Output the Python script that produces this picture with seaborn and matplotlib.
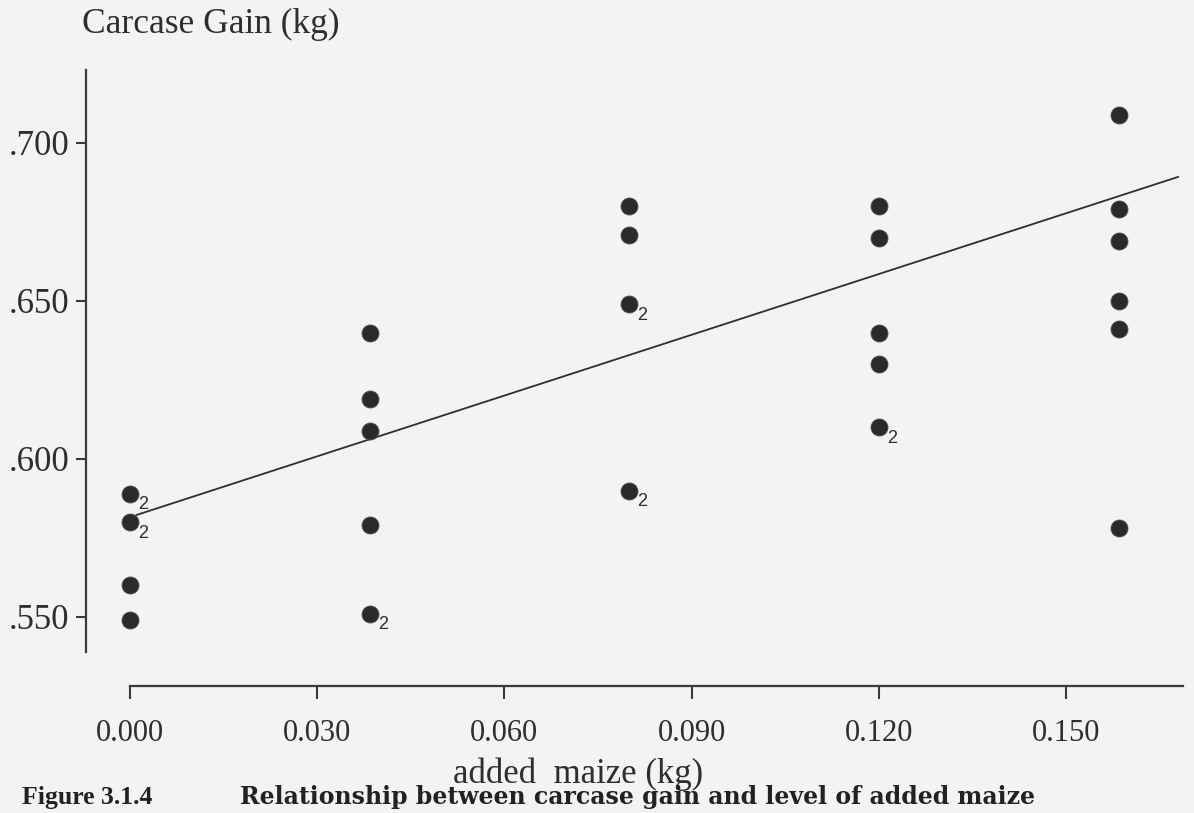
import numpy as np
import pandas as pd
import matplotlib
matplotlib.use("Agg")
import matplotlib.pyplot as plt
import seaborn as sns

# Carcase gain (kg) per animal against the level of added maize (kg)
maize_level = [0.0, 0.0, 0.0, 0.0,
               0.0385, 0.0385, 0.0385, 0.0385, 0.0385,
               0.080, 0.080, 0.080, 0.080,
               0.120, 0.120, 0.120, 0.120, 0.120,
               0.1585, 0.1585, 0.1585, 0.1585, 0.1585, 0.1585]
carcase_gain = [0.589, 0.580, 0.560, 0.549,
                0.640, 0.619, 0.609, 0.579, 0.551,
                0.680, 0.671, 0.649, 0.590,
                0.680, 0.670, 0.640, 0.630, 0.610,
                0.709, 0.679, 0.669, 0.650, 0.641, 0.578]
# number of animals sharing each plotted point
n_animals = [2, 2, 1, 1,
             1, 1, 1, 1, 2,
             1, 1, 2, 2,
             1, 1, 1, 1, 2,
             1, 1, 1, 1, 1, 1]

# fitted regression line: gain = intercept + slope * maize
fit_intercept = 0.5816
fit_slope = 0.641
fit_range = [0.001, 0.168]

x_ticks = [0.000, 0.030, 0.060, 0.090, 0.120, 0.150]
x_tick_labels = ["0.000", "0.030", "0.060", "0.090", "0.120", "0.150"]
y_ticks = [0.550, 0.600, 0.650, 0.700]
y_tick_labels = [".550", ".600", ".650", ".700"]

df = pd.DataFrame({"maize": maize_level, "gain": carcase_gain, "n": n_animals})
fit_x = np.array(fit_range)
fit_df = pd.DataFrame({"maize": fit_x, "gain": fit_intercept + fit_slope * fit_x})

sns.set_theme(style="white")
paper = "#f3f3f2"
ink = "#2e2e2e"
plt.rcParams["font.family"] = ["Liberation Serif", "DejaVu Serif"]

W, H, DPI = 1194, 813, 100
fig = plt.figure(figsize=(W / DPI, H / DPI), dpi=DPI, facecolor=paper)
ax = fig.add_axes([130 / W, 1 - 652 / H, 1053 / W, 582 / H])
ax.set_facecolor(paper)

sns.lineplot(data=fit_df, x="maize", y="gain", ax=ax, color=ink,
             linewidth=1.3, zorder=2)
sns.scatterplot(data=df, x="maize", y="gain", ax=ax, s=150, color="#2a2a2a",
                edgecolor="#505050", linewidth=0.6, legend=False,
                clip_on=False, zorder=3)

for _, row in df[df["n"] > 1].iterrows():
    ax.annotate(str(int(row["n"])), (row["maize"], row["gain"]),
                xytext=(9.5, -8), textcoords="offset points",
                ha="center", va="center", fontsize=13, color=ink,
                family=["Liberation Sans", "DejaVu Sans"])

ax.set_xlim(0.0, 0.16875)
ax.set_ylim(0.5389, 0.7231)

ax.set_xticks(x_ticks)
ax.set_xticklabels(x_tick_labels)
ax.set_yticks(y_ticks)
ax.set_yticklabels(y_tick_labels)
ax.set_xlabel("")
ax.set_ylabel("")

for side in ("top", "right"):
    ax.spines[side].set_visible(False)
ax.spines["left"].set_position(("outward", 44 * 72 / DPI))
ax.spines["bottom"].set_position(("outward", 34 * 72 / DPI))
for side in ("left", "bottom"):
    ax.spines[side].set_color("#3a3a3a")
    ax.spines[side].set_linewidth(1.6)

ax.tick_params(axis="y", direction="out", length=7, width=1.5,
               color="#3a3a3a", pad=5, left=True, labelsize=25,
               labelcolor=ink)
ax.tick_params(axis="x", direction="out", length=9, width=1.5,
               color="#3a3a3a", pad=15, bottom=True, labelsize=22,
               labelcolor=ink)

fig.text(82 / W, 1 - 24 / H, "Carcase Gain (kg)", fontsize=25.5, color=ink,
         ha="left", va="center")
fig.text(578 / W, 1 - 774 / H, "added  maize (kg)", fontsize=25, color=ink,
         ha="center", va="center")
fig.text(22 / W, 1 - 797 / H, "Figure 3.1.4", fontsize=18.5,
         fontweight="bold", color="#222222", ha="left", va="center",
         family=["Liberation Serif"])
fig.text(240 / W, 1 - 797 / H,
         "Relationship between carcase gain and level of added maize",
         fontsize=17, fontweight="bold", color="#222222", ha="left",
         va="center", family=["DejaVu Serif"])

fig.savefig("out.png", dpi=DPI, facecolor=paper)
